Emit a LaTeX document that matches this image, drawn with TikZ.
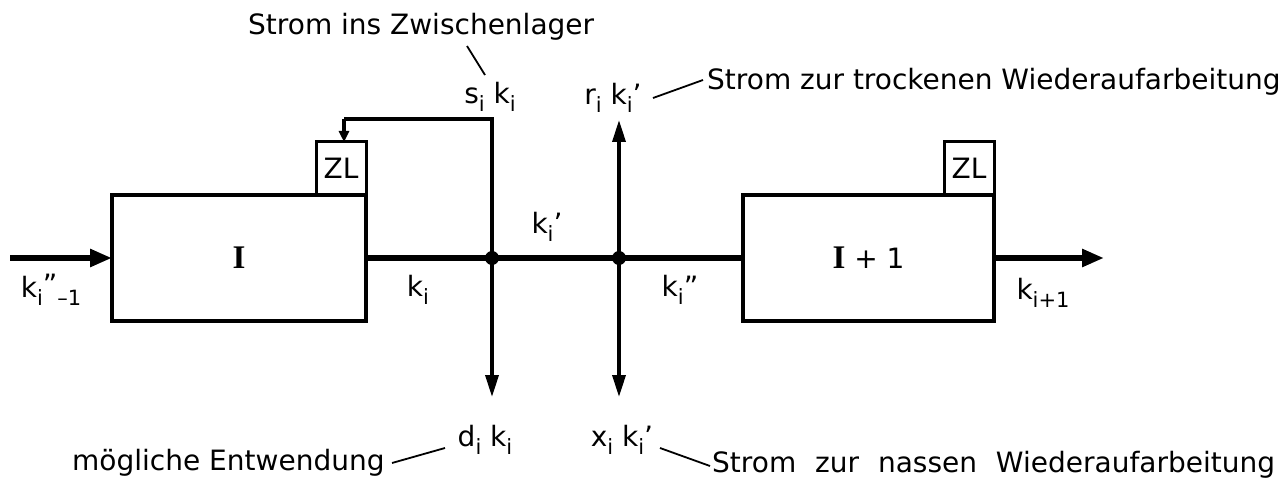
\documentclass[tikz,border=0pt]{standalone}
\usepackage{fontspec}
\setmainfont{DejaVu Sans}
\newfontfamily\serifI{Liberation Serif}
\usetikzlibrary{arrows.meta}
\newcommand\sbi[1]{\raisebox{-0.28em}{\fontsize{21}{21}\selectfont #1}}
\newcommand\bigI{{\serifI\bfseries\fontsize{33}{33}\selectfont I}}
\begin{document}
\begin{tikzpicture}[x=1pt,y=-1pt,
  lbl/.style={font=\fontsize{28}{30}\selectfont, inner sep=0pt},
  blk/.style={draw, line width=3.5pt, outer sep=0pt, minimum width=#1, minimum height=126pt, font=\fontsize{28}{30}\selectfont},
  zlbox/.style={draw, line width=3pt, outer sep=0pt, minimum width=50pt, minimum height=53pt, inner sep=0pt, font=\fontsize{28}{30}\selectfont},
  flow/.style={line width=6pt},
  thin/.style={line width=3.5pt},
  leader/.style={line width=1.8pt},
  bigtip/.style={-{Triangle[length=22pt,width=17pt]}},
  vtip/.style={-{Triangle[length=22pt,width=13pt]}},
  smalltip/.style={-{Triangle[length=11pt,width=10pt]}},
  dot/.style={circle, fill, inner sep=0pt, minimum size=14pt}
]
\useasboundingbox (0,0) rectangle (1284,486);

% blocks
\node[blk=254pt] (b1) at (239,258) {\bigI};
\node[blk=251pt] (b2) at (868.5,258) {\bigI{} + 1};
\node[zlbox, anchor=south east] (zl1) at (b1.north east) {ZL};
\node[zlbox, anchor=south east] (zl2) at (b2.north east) {ZL};

% junctions
\node[dot] (j1) at (492,258) {};
\node[dot] (j2) at (619,258) {};

% coordinates
\coordinate (in) at (10,258);
\coordinate (out) at (1104,258);
\coordinate (stop) at (492,119);
\coordinate (fb) at (344,119);
\coordinate (dend) at (492,397);
\coordinate (xend) at (619,397);
\coordinate (rend) at (619,120);

% flows
\draw[flow, bigtip] (in) -- (b1.west);
\draw[flow] (b1.east) -- (j1.center) -- (j2.center) -- (b2.west);
\draw[flow, bigtip] (b2.east) -- (out);

\draw[thin] (j1.center) -- (stop) -- (fb);
\draw[thin, smalltip] (fb) -- (fb |- zl1.north);
\draw[thin, vtip] (j1.center) -- (dend);
\draw[thin, vtip] (j2.center) -- (xend);
\draw[thin, vtip] (j2.center) -- (rend);

% flow labels
\node[lbl] (lin) at (51,290) {k\sbi{i}\raisebox{0.1em}{”}\sbi{–1}};
\node[lbl] (lki) at (418,290) {k\sbi{i}};
\node[lbl] (lkp) at (547,227) {k\sbi{i}’};
\node[lbl] (lkpp) at (680,290) {k\sbi{i}”};
\node[lbl] (lout) at (1043,293) {k\sbi{i+1}};

\node[lbl] (ls) at (490,97) {s\sbi{i} k\sbi{i}};
\node[lbl] (lr) at (613,98) {r\sbi{i} k\sbi{i}’};
\node[lbl] (ld) at (485,440) {d\sbi{i} k\sbi{i}};
\node[lbl] (lx) at (622,440) {x\sbi{i} k\sbi{i}’};

% descriptions
\node[lbl, anchor=west] (t1) at (248,27) {Strom ins Zwischenlager};
\node[lbl, anchor=west] (t2) at (707,82) {Strom zur trockenen Wiederaufarbeitung};
\node[lbl, anchor=west] (t3) at (72,463) {mögliche Entwendung};
\node[lbl, anchor=west] (t4) at (712,465) {Strom\hspace{10pt} zur\hspace{10pt} nassen\hspace{10pt} Wiederaufarbeitung};

% leaders
\coordinate (a1) at (467,46);  \coordinate (a2) at (485,75);
\coordinate (b1s) at (653,98); \coordinate (b2s) at (703,80);
\coordinate (c1) at (392,463); \coordinate (c2) at (445,448);
\coordinate (e1) at (660,448); \coordinate (e2) at (710,466);
\draw[leader] (a1) -- (a2);
\draw[leader] (b1s) -- (b2s);
\draw[leader] (c1) -- (c2);
\draw[leader] (e1) -- (e2);
\end{tikzpicture}
\end{document}
